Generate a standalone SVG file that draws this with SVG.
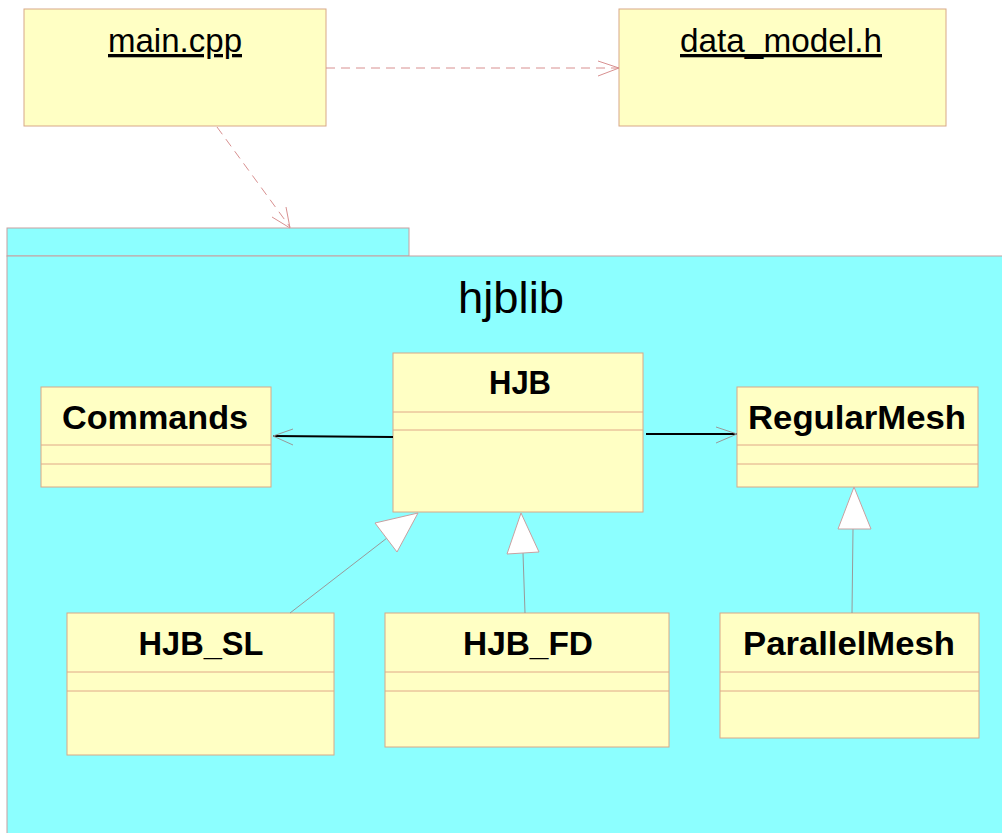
<svg xmlns="http://www.w3.org/2000/svg" width="1002" height="833" viewBox="0 0 1002 833">
<style>
.box{fill:#ffffc4;stroke:#d8a888;stroke-width:1}
.sep{stroke:#e0a888;stroke-width:1}
.cls{font-family:"Liberation Sans",Arial,sans-serif;font-weight:bold;font-size:34px;fill:#000;text-anchor:middle}
.file{font-family:"Liberation Sans",Arial,sans-serif;font-size:33px;fill:#000;text-anchor:middle;text-decoration:underline}
.dash{stroke:#d89090;stroke-width:1;fill:none;stroke-dasharray:9,6}
.open{stroke:#d89090;stroke-width:1;fill:none}
.assoc{stroke:#000;stroke-width:2;fill:none}
.ahead{stroke:#999;stroke-width:1;fill:none}
.gen{stroke:#999;stroke-width:1;fill:none}
.tri{fill:#fff;stroke:#c8a0a0;stroke-width:1}
</style>
<rect width="1002" height="833" fill="#fff"/>
<g id="pkg-hjblib">
<rect x="7" y="228" width="402" height="28" fill="#8cffff" stroke="#c8a0a0"/>
<rect x="7" y="256" width="1000" height="582" fill="#8cffff" stroke="#c8a0a0"/>
<text x="511" y="313" font-family="Liberation Sans,Arial,sans-serif" font-size="44" text-anchor="middle" textLength="106" lengthAdjust="spacingAndGlyphs">hjblib</text>
</g>
<g id="main_cpp">
<rect class="box" x="24" y="9" width="302" height="117"/>
<text class="file" x="175" y="52" textLength="134" lengthAdjust="spacingAndGlyphs">main.cpp</text>
</g>
<g id="data_model_h">
<rect class="box" x="619" y="9" width="327" height="117"/>
<text class="file" x="781" y="52" textLength="202" lengthAdjust="spacingAndGlyphs">data_model.h</text>
</g>
<g id="HJB">
<rect class="box" x="393" y="353" width="250" height="159"/>
<line class="sep" x1="393" y1="412" x2="643" y2="412"/>
<line class="sep" x1="393" y1="430" x2="643" y2="430"/>
<text class="cls" x="520" y="394" textLength="62" lengthAdjust="spacingAndGlyphs">HJB</text>
</g>
<g id="Commands">
<rect class="box" x="41" y="387" width="230" height="100"/>
<line class="sep" x1="41" y1="445" x2="271" y2="445"/>
<line class="sep" x1="41" y1="464" x2="271" y2="464"/>
<text class="cls" x="155" y="429" textLength="186" lengthAdjust="spacingAndGlyphs">Commands</text>
</g>
<g id="RegularMesh">
<rect class="box" x="737" y="387" width="241" height="100"/>
<line class="sep" x1="737" y1="445" x2="978" y2="445"/>
<line class="sep" x1="737" y1="464" x2="978" y2="464"/>
<text class="cls" x="857" y="429" textLength="218" lengthAdjust="spacingAndGlyphs">RegularMesh</text>
</g>
<g id="HJB_SL">
<rect class="box" x="67" y="613" width="267" height="142"/>
<line class="sep" x1="67" y1="672" x2="334" y2="672"/>
<line class="sep" x1="67" y1="691" x2="334" y2="691"/>
<text class="cls" x="201" y="655" textLength="125" lengthAdjust="spacingAndGlyphs">HJB_SL</text>
</g>
<g id="HJB_FD">
<rect class="box" x="385" y="613" width="284" height="134"/>
<line class="sep" x1="385" y1="672" x2="669" y2="672"/>
<line class="sep" x1="385" y1="691" x2="669" y2="691"/>
<text class="cls" x="528" y="655" textLength="130" lengthAdjust="spacingAndGlyphs">HJB_FD</text>
</g>
<g id="ParallelMesh">
<rect class="box" x="720" y="613" width="259" height="125"/>
<line class="sep" x1="720" y1="672" x2="979" y2="672"/>
<line class="sep" x1="720" y1="691" x2="979" y2="691"/>
<text class="cls" x="849" y="655" textLength="212" lengthAdjust="spacingAndGlyphs">ParallelMesh</text>
</g>
<g id="connectors">
<line class="dash" x1="326" y1="68" x2="619" y2="68"/>
<polyline class="open" points="598,61 619,68 598,76"/>
<line class="dash" x1="217" y1="127" x2="290" y2="227"/>
<polyline class="open" points="272,217 290,228 286,207"/>
<line class="assoc" x1="393" y1="437" x2="273" y2="436"/>
<polyline class="ahead" points="293,429 273,436 293,445"/>
<line class="assoc" x1="646" y1="434" x2="737" y2="434"/>
<polyline class="ahead" points="716,427 737,434 716,443"/>
<line class="gen" x1="290" y1="613" x2="387" y2="538"/>
<polygon class="tri" points="418,513 375,523 397,552"/>
<line class="gen" x1="523" y1="553" x2="525" y2="613"/>
<polygon class="tri" points="521,513 507,554 539,552"/>
<line class="gen" x1="853" y1="529" x2="852" y2="613"/>
<polygon class="tri" points="854,487 838,529 871,529"/>
</g>
</svg>
